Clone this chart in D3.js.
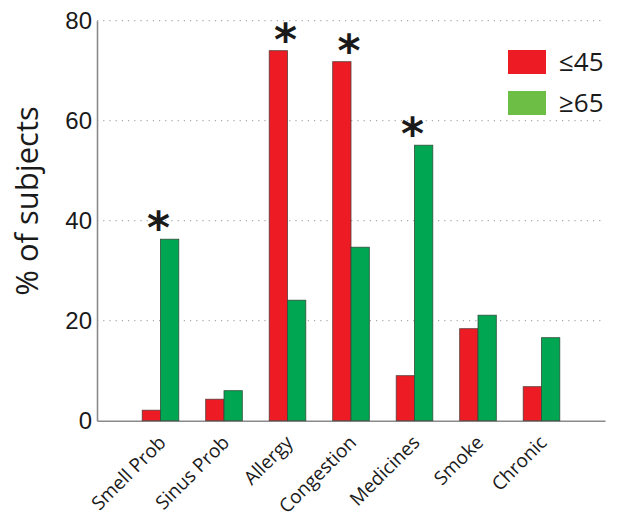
<!DOCTYPE html>
<html>
<head>
<meta charset="utf-8">
<script src="https://cdn.jsdelivr.net/npm/d3@7"></script>
<style>
  html, body { margin: 0; padding: 0; background: #fff; }
  svg { display: block; }
</style>
</head>
<body>
<svg id="chart" width="624" height="518"></svg>
<script>
// ---- data ----
const categories = ["Smell Prob", "Sinus Prob", "Allergy", "Congestion", "Medicines", "Smoke", "Chronic"];
const young = [2.1, 4.3, 74.0, 71.8, 9.0, 18.4, 6.8];   // ≤45
const old   = [36.3, 6.0, 24.1, 34.7, 55.1, 21.1, 16.6]; // ≥65
const significant = [true, false, true, true, true, false, false];
const yTicks = [0, 20, 40, 60, 80];
const seriesNames = ["≤45", "≥65"];

// ---- layout ----
const svg = d3.select("#chart");
const plotLeft = 97, plotRight = 605, plotTop = 20.7, plotBottom = 420.7;
const barW = 18.3;

const x = d3.scalePoint().domain(categories).range([plotLeft, plotRight]).padding(1);
const y = d3.scaleLinear().domain([0, 80]).range([plotBottom, plotTop]);

const redFill = "#ED1C24", greenFill = "#00A651", legendGreen = "#6CBE45";

// gridlines
svg.append("g").selectAll("line").data(yTicks.filter(d => d > 0)).join("line")
  .attr("x1", plotLeft).attr("x2", plotRight)
  .attr("y1", d => y(d)).attr("y2", d => y(d))
  .attr("stroke", "#aaa").attr("stroke-width", 1.2)
  .attr("stroke-dasharray", "1.2,5");

// y axis with D3
const yAxis = d3.axisLeft(y).tickValues(yTicks).tickSize(0).tickPadding(5).tickFormat(d3.format("d"));
const gy = svg.append("g").attr("transform", `translate(${plotLeft},0)`).call(yAxis);
gy.select(".domain").attr("stroke", "#8a8a8a").attr("stroke-width", 1.6);
gy.selectAll("text").attr("font-family", "Liberation Sans, Arial, sans-serif")
  .attr("font-size", 24).attr("fill", "#1a1a1a");

// x axis with D3
const xAxis = d3.axisBottom(x).tickSize(0).tickPadding(0);
const gx = svg.append("g").attr("transform", `translate(0,${plotBottom})`).call(xAxis);
gx.select(".domain").attr("stroke", "#8a8a8a").attr("stroke-width", 1.6);
gx.selectAll("text")
  .attr("font-family", "Open Sans, sans-serif").attr("font-size", 19).attr("fill", "#1a1a1a")
  .attr("text-anchor", "end").attr("dy", 0).attr("y", 0)
  .attr("transform", d => `translate(6,23) rotate(-45)`);

// bars
const g = svg.append("g");
g.selectAll("rect.young").data(categories).join("rect").attr("class", "young")
  .attr("x", d => x(d) - barW).attr("width", barW)
  .attr("y", (d, i) => y(young[i])).attr("height", (d, i) => y(0) - y(young[i]))
  .attr("fill", redFill).attr("stroke", "#5a3a3a").attr("stroke-width", 0.8);
g.selectAll("rect.old").data(categories).join("rect").attr("class", "old")
  .attr("x", d => x(d)).attr("width", barW)
  .attr("y", (d, i) => y(old[i])).attr("height", (d, i) => y(0) - y(old[i]))
  .attr("fill", greenFill).attr("stroke", "#2f4f3a").attr("stroke-width", 0.8);

// significance asterisks
svg.append("g").selectAll("text").data(categories.filter((d, i) => significant[i])).join("text")
  .attr("x", d => x(d) - 2)
  .attr("y", d => { const i = categories.indexOf(d); return y(Math.max(young[i], old[i])) + 4; })
  .attr("text-anchor", "middle")
  .attr("font-family", "DejaVu Sans, sans-serif").attr("font-weight", "bold").attr("font-size", 44)
  .attr("fill", "#1a1a1a")
  .text("*");

// y label
svg.append("text")
  .attr("transform", "translate(38,201) rotate(-90)")
  .attr("text-anchor", "middle")
  .attr("font-family", "Open Sans, sans-serif").attr("font-size", 31).attr("fill", "#1a1a1a")
  .text("% of subjects");

// legend
const legend = svg.append("g");
const legY = [50, 91];
const legColors = [redFill, legendGreen];
legend.selectAll("rect").data(seriesNames).join("rect")
  .attr("x", 508).attr("y", (d, i) => legY[i]).attr("width", 38).attr("height", 24)
  .attr("fill", (d, i) => legColors[i]);
legend.selectAll("text").data(seriesNames).join("text")
  .attr("x", 559).attr("y", (d, i) => legY[i] + 21)
  .attr("font-family", "Open Sans, sans-serif").attr("font-size", 26).attr("fill", "#1a1a1a")
  .text(d => d);
</script>
</body>
</html>
